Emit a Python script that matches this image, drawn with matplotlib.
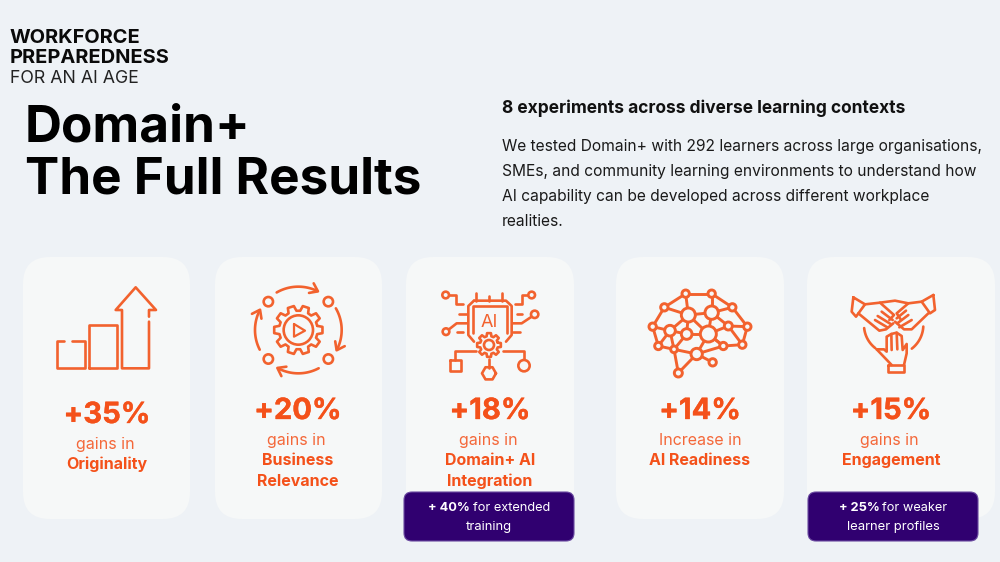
import numpy as np
import matplotlib
matplotlib.use('Agg')
import matplotlib.pyplot as plt
import matplotlib.patheffects as pe
from matplotlib.patches import FancyBboxPatch, Circle

plt.rcParams['font.family'] = ['Inter', 'DejaVu Sans']

BG = '#EEF2F6'
CARD = '#F6F8F8'
ORANGE = '#F4511A'
ICON = '#F2622E'
PURPLE = '#300070'

# the numbers on the cards
gains = ['+35%', '+20%', '+18%', '+14%', '+15%']
lead_ins = ['gains in', 'gains in', 'gains in', 'Increase in', 'gains in']
measures = [['Originality'], ['Business', 'Relevance'], ['Domain+ AI', 'Integration'], ['AI Readiness'], ['Engagement']]
card_left = [23, 215, 406, 616, 807]
card_right = [190, 382, 574, 784, 995]
text_x = [107, 298, 490, 700, 891]
gain_y = [423, 419, 419, 419, 419]

body = ['We tested Domain+ with 292 learners across large organisations,',
        'SMEs, and community learning environments to understand how',
        'AI capability can be developed across different workplace',
        'realities.']

fig = plt.figure(figsize=(10, 5.62), dpi=100, facecolor=BG)
ax = fig.add_axes([0, 0, 1, 1])
ax.set_xlim(0, 1000)
ax.set_ylim(562, 0)
ax.axis('off')

heavy = [pe.withStroke(linewidth=0.25, foreground=ORANGE)]


def box(x0, y0, x1, y1, r, fc, ec='none', lw=0, z=1):
    ax.add_patch(FancyBboxPatch((x0 + r, y0 + r), x1 - x0 - 2 * r, y1 - y0 - 2 * r,
                                boxstyle=f'round,pad={r},rounding_size={r}', fc=fc, ec=ec, lw=lw, zorder=z))


# icons are traced in the 3x zoom coordinates, ox/oy move them back to the slide
def line(pts, ox, oy, lw=1.9, close=False, z=3):
    p = np.array(pts, dtype=float) / 3 + [ox, oy]
    if close:
        p = np.vstack([p, p[0]])
    ax.plot(p[:, 0], p[:, 1], color=ICON, lw=lw, zorder=z, solid_capstyle='round', solid_joinstyle='round')


def ring(x, y, r, ox, oy, lw=1.9):
    ax.add_patch(Circle((x / 3 + ox, y / 3 + oy), r / 3, fc=CARD, ec=ICON, lw=lw, zorder=4))


def arc(cx, cy, r, a0, a1, ox, oy, head=False, lw=1.9):
    t = np.radians(np.linspace(a0, a1, 40))
    line(np.c_[cx + r * np.cos(t), cy - r * np.sin(t)], ox, oy, lw)
    if head:
        # open chevron at the end of the arc
        e = np.array([cx + r * np.cos(t[-1]), cy - r * np.sin(t[-1])])
        d = np.sign(a1 - a0) * np.array([-np.sin(t[-1]), -np.cos(t[-1])])
        n = np.array([-d[1], d[0]])
        line([e - d * 20 + n * 16, e + d * 2, e - d * 20 - n * 16], ox, oy, lw)


def gear(cx, cy, r_out, r_in, teeth, ox, oy, lw=1.9):
    pts = []
    for k in range(teeth):
        a = 2 * np.pi * k / teeth
        w = np.pi / teeth * 0.55
        for da, r in [(-w * 1.25, r_in), (-w * 0.75, r_out), (w * 0.75, r_out), (w * 1.25, r_in)]:
            pts.append((cx + r * np.cos(a + da), cy + r * np.sin(a + da)))
    line(pts, ox, oy, lw, close=True)


# background cards
for x0, x1 in zip(card_left, card_right):
    box(x0, 257, x1, 519, 27, CARD)

# header
ax.text(10, 43, 'WORKFORCE', fontsize=14.4, fontweight='bold', color='#0A0A0A', va='baseline')
ax.text(10, 63, 'PREPAREDNESS', fontsize=14.4, fontweight='bold', color='#0A0A0A', va='baseline')
ax.text(10, 83, 'FOR AN AI AGE', fontsize=12.8, color='#222222', va='baseline')
ax.text(25, 142, 'Domain+', fontsize=36.9, fontweight='bold', color='black', va='baseline')
ax.text(25, 193, 'The Full Results', fontsize=36.9, fontweight='bold', color='black', va='baseline')

ax.text(502, 113, '8 experiments across diverse learning contexts', fontsize=12.5, fontweight='bold',
        color='#111111', va='baseline')
for i, t in enumerate(body):
    ax.text(502, 151 + i * 25, t, fontsize=11.2, color='#1A1A1A', va='baseline')

# card text
for i in range(5):
    ax.text(text_x[i], gain_y[i], gains[i], fontsize=21, fontweight='bold', color=ORANGE, ha='center', va='baseline',
            path_effects=heavy)
    ax.text(text_x[i] - 2 if i != 3 else text_x[i], gain_y[i] + 26, lead_ins[i], fontsize=11.5, color='#F4683A',
            ha='center', va='baseline')
    for j, m in enumerate(measures[i]):
        ax.text(text_x[i], gain_y[i] + 46 + j * 21, m, fontsize=11.5, fontweight='bold', color=ORANGE,
                ha='center', va='baseline')

# purple callouts
for x0, x1, a, b, c in [(404, 574, '+ 40%', 'for extended', 'training'), (808, 978, '+ 25%', 'for weaker', 'learner profiles')]:
    box(x0, 492, x1, 541, 8, PURPLE, ec='#6A4AA0', lw=0.8, z=5)
    t = ax.text((x0 + x1) / 2, 511, a, fontsize=9.2, fontweight='bold', color='white', ha='left', va='baseline', zorder=6)
    t2 = ax.text(0, 511, b, fontsize=9.2, color='white', ha='left', va='baseline', zorder=6)
    fig.canvas.draw()
    w1 = t.get_window_extent().width + 3
    w2 = t2.get_window_extent().width
    left = (x0 + x1) / 2 - (w1 + w2) / 2
    t.set_x(left)
    t2.set_x(left + w1)
    ax.text((x0 + x1) / 2, 530, c, fontsize=9.4, color='white', ha='center', va='baseline', zorder=6)

# icon 1, bars and arrow
o = (0, 250)
line([(192, 272), (172, 272), (172, 355), (255, 355), (255, 272), (215, 272)], *o)
line([(268, 355), (268, 225), (350, 225), (350, 355), (268, 355)], *o)
line([(447, 215), (447, 355), (366, 355), (366, 180), (347, 180), (407, 112), (468, 180), (447, 180), (447, 200)], *o)

# icon 2, gear with looping arrows
for x, y in [(805, 155), (985, 155), (805, 327), (985, 327)]:
    ring(x, y, 14, *o)
gear(895, 240, 73, 58, 10, *o)
ring(895, 240, 44, *o)
line([(882, 222), (915, 242), (882, 260)], *o, close=True, lw=1.6, z=5)
arc(895, 240, 130, 120, 64, *o, head=True)
arc(895, 240, 130, 30, -27, *o, head=True)
arc(895, 240, 130, -62, -118, *o, head=True)
arc(895, 240, 130, 207, 153, *o, head=True)

# icon 3, chip
o = (400, 270)
line([(222, 92), (318, 92), (335, 108), (335, 195), (318, 215)], *o)
line([(222, 92), (205, 108), (205, 195), (222, 215)], *o)
line([(218, 190), (218, 108), (320, 108), (320, 190)], *o)
ax.text(400 + 267 / 3, 270 + 170 / 3, 'AI', fontsize=13, color=ICON, ha='center', va='baseline', zorder=3)
gear(267, 225, 36, 27, 8, *o)
ring(267, 225, 15, *o)
for seg in [[(228, 68), (228, 92)], [(267, 78), (267, 92)], [(305, 68), (305, 92)],
            [(147, 75), (168, 75), (168, 103), (188, 103)], [(385, 75), (365, 75), (365, 103), (345, 103)],
            [(178, 133), (200, 133)], [(147, 178), (170, 160), (200, 160)], [(172, 187), (190, 187)],
            [(350, 133), (367, 133)], [(395, 140), (365, 160), (338, 160)], [(338, 187), (360, 187)],
            [(228, 243), (165, 243), (165, 270)], [(267, 267), (267, 295)], [(310, 243), (372, 243), (372, 270)]]:
    line(seg, *o)
line([(150, 270), (182, 270), (182, 302), (150, 302)], *o, close=True)
hex_a = np.radians(np.arange(0, 360, 60))
line(np.c_[267 + 21 * np.cos(hex_a), 310 + 21 * np.sin(hex_a)], *o, close=True)
for x, y, r in [(137, 75, 10), (395, 75, 10), (138, 185, 10), (404, 133, 11), (372, 287, 17)]:
    ring(x, y, r, *o)

# icon 4, brain network
nodes = [(857, 71, 11), (935, 71, 11), (793, 112, 11), (997, 112, 11), (865, 135, 21), (935, 128, 20),
         (758, 170, 11), (1042, 170, 11), (985, 168, 12), (810, 182, 16), (860, 192, 16), (925, 192, 24),
         (775, 228, 11), (822, 238, 10), (970, 228, 11), (1027, 224, 11), (890, 252, 17), (938, 277, 11), (835, 309, 12)]
edges = [(0, 1), (0, 2), (1, 3), (2, 6), (3, 7), (0, 4), (1, 5), (2, 4), (4, 5), (5, 3), (4, 9), (4, 11), (5, 8),
         (5, 11), (6, 9), (6, 12), (7, 8), (7, 15), (8, 15), (8, 11), (9, 10), (10, 11), (9, 13), (10, 13), (12, 13),
         (13, 16), (13, 18), (16, 11), (16, 14), (14, 15), (14, 11), (16, 17), (16, 18), (11, 14), (4, 10), (12, 9)]
for a, b in edges:
    line([nodes[a][:2], nodes[b][:2]], *o, lw=2.1)
for x, y, r in nodes:
    ring(x, y, r, *o, lw=2.1)

# icon 5, three hands
o = (780, 270)
line([(220, 82), (255, 103), (228, 140), (215, 125)], *o, close=True)
line([(460, 75), (425, 95), (450, 130), (465, 120)], *o, close=True)
line([(255, 103), (300, 98), (342, 135), (328, 150)], *o)
line([(425, 95), (385, 100), (350, 130), (362, 148)], *o)
line([(235, 130), (298, 182), (318, 178), (340, 160)], *o)
line([(445, 130), (395, 178), (372, 178), (345, 155)], *o)
for seg in [[(285, 150), (322, 172)], [(293, 138), (332, 162)], [(305, 125), (338, 150)],
            [(395, 150), (358, 172)], [(385, 135), (352, 160)], [(378, 122), (350, 145)]]:
    line(seg, *o)
line([(300, 98), (345, 92), (385, 100)], *o)
arc(340, 165, 88, 186, 232, *o)
arc(340, 165, 90, 308, 357, *o)
line([(290, 238), (312, 238), (320, 245), (320, 200), (334, 192), (350, 188), (365, 198), (368, 240), (380, 222), (380, 250), (372, 285)], *o)
line([(290, 238), (335, 285)], *o)
for seg in [[(334, 192), (335, 240)], [(350, 188), (352, 238)]]:
    line(seg, *o)
line([(325, 285), (372, 285), (372, 305), (325, 305)], *o, close=True)

fig.savefig('out.png', dpi=100, facecolor=BG)
